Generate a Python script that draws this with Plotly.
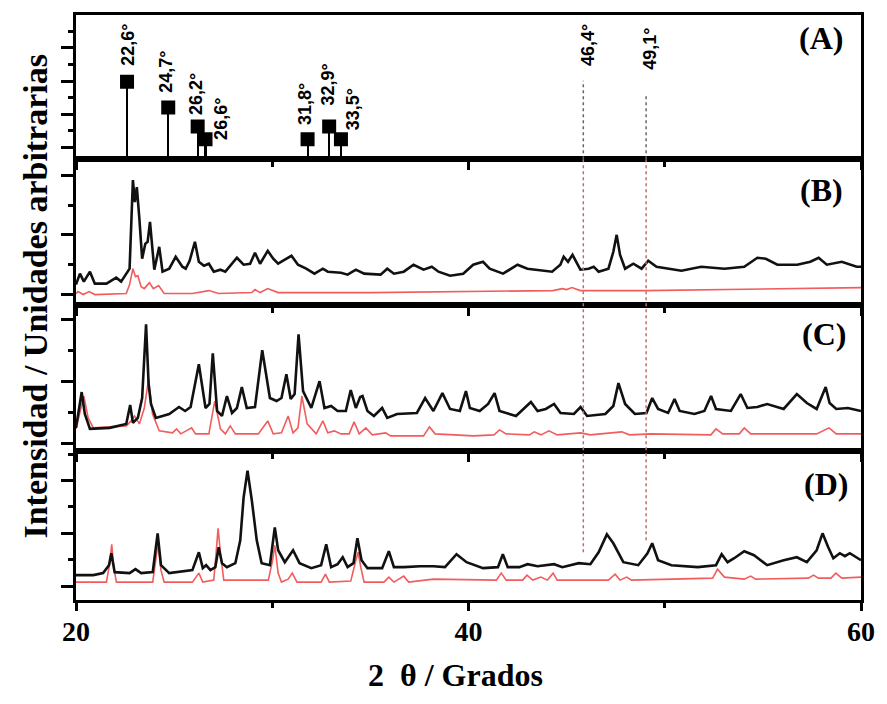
import plotly.graph_objects as go

# ---------------- data ----------------
# Panel A: reference reflections (2theta, relative intensity)
STICK_POS = [22.6, 24.7, 26.2, 26.6, 31.8, 32.9, 33.5]
STICK_INT = [78, 52, 33, 20, 20, 33, 20]
STICK_LABELS = ["22,6°", "24,7°", "26,2°", "26,6°", "31,8°", "32,9°", "33,5°"]

# dotted reference lines (position as drawn) and their labels
REF_POS = [45.85, 49.05]
REF_LABELS = ["46,4°", "49,1°"]

# Panel B: (2theta, intensity)
B_BLACK = [(20.0,20),(20.2,31),(20.4,23),(20.71,33),(20.96,21),(21.55,21),(22.05,27),(22.3,23),
           (22.73,36),(22.9,125),(23.0,103),(23.1,118),(23.23,86),(23.37,46),(23.53,61),(23.65,63),
           (23.77,83),(23.99,35),(24.24,58),(24.41,33),(24.75,36),(25.08,48),(25.42,38),(25.59,36),
           (25.79,44),(26.06,63),(26.26,43),(26.52,39),(26.77,41),(27.02,33),(27.36,35),(27.61,33),
           (28.2,47),(28.54,40),(28.87,41),(29.12,52),(29.38,41),(29.77,54),(30.05,46),(30.3,41),
           (30.64,45),(30.98,49),(31.31,40),(31.73,36),(32.15,31),(32.58,36),(32.83,33),(33.5,32),
           (33.84,30),(34.26,35),(34.68,31),(35.52,30),(35.86,36),(36.2,31),(36.7,33),(37.2,40),
           (37.71,35),(38.13,38),(38.47,33),(39.06,29),(39.73,31),(40.24,40),(40.74,43),(41.08,36),
           (41.76,31),(42.5,40),(43.0,36),(44.26,33),(44.68,40),(44.85,48),(45.07,43),(45.3,50),
           (45.7,35),(46.12,36),(46.38,38),(46.63,33),(47.13,36),(47.38,53),(47.55,70),(47.72,50),
           (47.98,36),(48.4,41),(48.82,36),(49.16,44),(49.58,38),(50.34,36),(50.85,34),(51.86,38),
           (53.04,36),(54.05,38),(54.72,47),(55.15,46),(55.74,40),(56.75,40),(57.42,43),(57.84,47),
           (58.26,40),(59.02,43),(59.78,38),(60.0,38)]
B_RED = [(20.0,11),(20.1,13),(20.37,10),(20.67,13),(20.96,10),(22.56,11),(22.73,20),(22.9,36),
         (23.03,28),(23.15,29),(23.32,18),(23.48,16),(23.74,22),(23.94,16),(24.21,19),(24.49,11),
         (25.93,11),(26.77,14),(27.27,11),(28.96,12),(29.12,15),(29.38,12),(29.77,16),(30.3,12),
         (35.0,12),(40.24,13),(44.3,14),(44.77,16),(45.0,15),(45.27,17),(45.7,14),(49.0,14),
         (52.0,15),(55.0,16),(60.0,17)]

# Panel C
C_BLACK = [(20.0,23),(20.12,37),(20.29,59),(20.45,37),(20.71,22),(21.72,23),(22.56,27),(22.76,46),
           (22.9,28),(23.15,33),(23.37,53),(23.57,127),(23.7,67),(23.82,47),(24.07,33),(24.75,37),
           (25.25,44),(25.56,40),(25.84,44),(26.26,87),(26.6,43),(26.8,47),(26.97,98),(27.19,40),
           (27.44,35),(27.69,55),(27.95,38),(28.2,43),(28.45,64),(28.7,43),(29.12,44),(29.49,101),
           (29.88,53),(30.22,50),(30.47,53),(30.72,77),(30.94,52),(31.14,57),(31.34,117),(31.57,60),
           (31.73,53),(31.99,43),(32.41,70),(32.66,43),(33.0,45),(33.33,40),(33.75,40),(34.0,61),
           (34.26,43),(34.48,54),(34.6,55),(34.85,40),(35.18,35),(35.6,43),(35.86,33),(36.36,37),
           (37.37,38),(37.79,53),(38.21,40),(38.67,58),(39.06,42),(39.56,40),(39.87,60),(40.07,43),
           (40.57,40),(41.0,47),(41.33,58),(41.58,40),(42.42,35),(42.84,43),(43.18,49),(43.52,40),
           (43.94,42),(44.36,47),(44.69,38),(45.37,37),(45.71,44),(46.04,35),(46.97,37),(47.38,45),
           (47.64,68),(47.98,47),(48.48,37),(49.07,38),(49.36,53),(49.66,42),(50.17,38),(50.5,52),
           (50.76,40),(51.51,37),(52.02,40),(52.36,55),(52.61,42),(53.37,40),(53.87,57),(54.21,43),
           (54.72,44),(55.22,47),(56.06,42),(56.73,57),(57.24,48),(57.74,42),(58.2,64),(58.4,48),
           (58.74,42),(59.33,43),(60.0,40)]
C_RED = [(20.0,22),(20.2,40),(20.4,55),(20.62,33),(20.88,23),(22.56,25),(22.81,30),(22.98,35),
         (23.23,27),(23.48,43),(23.7,72),(23.9,37),(24.24,20),(24.92,18),(25.12,22),(25.34,17),
         (25.89,23),(26.09,17),(26.77,17),(27.07,50),(27.36,22),(27.61,17),(27.86,25),(28.12,17),
         (29.29,17),(29.77,30),(30.05,17),(30.47,18),(30.81,35),(31.06,18),(31.31,23),(31.51,55),
         (31.78,27),(32.24,17),(32.58,30),(32.83,18),(33.16,20),(33.5,17),(33.92,17),(34.17,29),
         (34.43,17),(34.77,23),(35.1,16),(35.78,18),(36.03,15),(37.71,15),(38.01,24),(38.3,17),
         (40.24,15),(41.3,16),(41.58,21),(41.92,17),(43.1,16),(43.35,19),(43.69,16),(44.1,20),
         (44.52,16),(45.71,18),(46.2,16),(47.81,19),(48.2,16),(49.32,17),(52.35,16),(52.61,22),
         (52.95,17),(53.8,17),(54.05,23),(54.38,17),(57.74,17),(58.37,23),(58.74,17),(60.0,17)]

# Panel D
D_BLACK = [(20.0,25),(20.88,25),(21.38,27),(21.68,35),(21.8,47),(21.97,28),(22.73,27),(23.03,31),
           (23.32,27),(23.91,28),(24.16,67),(24.33,35),(24.75,27),(25.25,28),(25.93,30),(26.26,48),
           (26.46,32),(26.63,35),(26.85,30),(27.1,33),(27.27,53),(27.44,37),(27.69,33),(28.12,37),
           (28.37,60),(28.54,103),(28.74,130),(28.96,100),(29.21,60),(29.46,37),(29.88,35),(30.13,73),
           (30.3,50),(30.64,38),(31.06,50),(31.39,37),(31.99,32),(32.49,35),(32.75,56),(33.0,33),
           (33.33,36),(33.59,43),(33.84,33),(34.14,37),(34.34,62),(34.55,40),(34.85,32),(35.6,32),
           (35.94,49),(36.2,33),(36.7,33),(37.54,34),(38.21,34),(38.8,33),(39.39,46),(39.9,38),
           (40.74,32),(41.5,33),(41.75,46),(42.0,33),(42.59,33),(43.01,36),(43.52,34),(44.36,36),
           (44.78,33),(45.62,37),(46.21,36),(46.63,48),(47.05,66),(47.38,57),(47.89,38),(48.65,35),
           (49.12,47),(49.36,57),(49.66,40),(50.34,35),(51.68,33),(52.61,35),(52.9,46),(53.2,38),
           (53.54,42),(54.05,49),(54.55,45),(55.22,35),(56.06,40),(56.73,43),(57.24,38),(57.74,50),
           (58.04,67),(58.33,53),(58.59,42),(58.92,47),(59.18,44),(59.43,47),(60.0,40)]
D_RED = [(20.0,18),(21.55,18),(21.72,37),(21.82,56),(21.92,33),(22.06,18),(23.91,18),(24.07,43),
         (24.18,57),(24.33,30),(24.49,18),(25.93,18),(26.26,27),(26.46,18),(27.02,20),(27.15,50),
         (27.24,72),(27.36,47),(27.53,20),(29.8,20),(30.02,40),(30.13,55),(30.3,27),(30.47,18),
         (30.81,21),(31.02,27),(31.26,18),(32.49,18),(32.71,26),(32.91,18),(34.0,19),(34.26,40),
         (34.38,48),(34.51,33),(34.68,18),(35.69,18),(35.94,23),(36.2,18),(36.7,24),(36.95,18),
         (38.21,21),(41.42,20),(41.67,27),(41.92,20),(42.76,20),(42.98,25),(43.27,20),(43.69,23),
         (44.02,20),(44.31,27),(44.52,20),(47.13,20),(47.47,26),(47.72,20),(48.06,23),(48.31,20),
         (52.44,22),(52.69,31),(53.04,23),(54.05,21),(54.38,24),(54.63,21),(57.32,22),(57.58,25),
         (57.83,22),(58.47,22),(58.72,27),(59.02,22),(60.0,23)]

X_TICKS = [20, 40, 60]
PANEL_NAMES = ["(A)", "(B)", "(C)", "(D)"]

# ---------------- styling / layout ----------------
BLACK_C = "#111111"
RED_C = "#f25c5c"
SERIF = "Liberation Serif, Times New Roman, serif"
SANS = "Liberation Sans, Arial, sans-serif"

fig = go.Figure()

def unzip(pairs):
    return [p[0] for p in pairs], [p[1] for p in pairs]

# axis ids: D -> x/y, C -> x2/y2, B -> x3/y3, A -> x4/y4
for pairs, color, width, ax in [
    (B_RED, RED_C, 1.6, 3), (B_BLACK, BLACK_C, 2.6, 3),
    (C_RED, RED_C, 1.6, 2), (C_BLACK, BLACK_C, 2.6, 2),
    (D_RED, RED_C, 1.6, 1), (D_BLACK, BLACK_C, 2.6, 1),
]:
    xs, ys = unzip(pairs)
    sfx = "" if ax == 1 else str(ax)
    fig.add_trace(go.Scatter(x=xs, y=ys, mode="lines", line=dict(color=color, width=width),
                             xaxis="x" + sfx, yaxis="y" + sfx, showlegend=False,
                             hoverinfo="skip"))

# panel A sticks + square heads
fig.add_trace(go.Bar(x=STICK_POS, y=STICK_INT, width=0.11, marker=dict(color="black", line=dict(width=0)),
                     xaxis="x4", yaxis="y4", showlegend=False))
fig.add_trace(go.Scatter(x=STICK_POS, y=STICK_INT, mode="markers",
                         marker=dict(symbol="square", size=14, color="black"),
                         xaxis="x4", yaxis="y4", showlegend=False))

# domains (fractions of plot area, bottom to top)
DOM = {1: [0.0, 0.2551], 2: [0.2551, 0.5051], 3: [0.5051, 0.7534], 4: [0.7534, 1.0]}
YRANGE = {1: [0, 150], 2: [0, 147], 3: [0, 146], 4: [0, 145]}
YTICK = {1: (14, 53), 2: (7, 62.5), 3: (10, 60), 4: (12, 33.33)}

layout = dict(
    width=887, height=704,
    margin=dict(l=76, r=21, t=12, b=104),
    paper_bgcolor="white", plot_bgcolor="white",
    bargap=0, showlegend=False,
)
for i in range(1, 5):
    sfx = "" if i == 1 else str(i)
    layout["xaxis" + sfx] = dict(
        range=[20, 60], anchor="y" + sfx, domain=[0, 1],
        showline=True, linewidth=3, linecolor="black", mirror=True,
        ticks="outside", ticklen=8, tickwidth=3, tickcolor="black",
        tickmode="array", tickvals=X_TICKS, ticktext=[str(v) for v in X_TICKS],
        minor=dict(ticks="outside", ticklen=5, tickwidth=3, dtick=10, tick0=20, tickcolor="black"),
        showticklabels=(i == 1), showgrid=False, zeroline=False,
        ticklabelstandoff=-4,
        tickfont=dict(family=SERIF, size=28, color="black", weight="bold"),
        **({} if i == 1 else {"matches": "x"}),
    )
    t0, dt = YTICK[i]
    layout["yaxis" + sfx] = dict(
        domain=DOM[i], range=YRANGE[i], anchor="x" + sfx,
        showline=True, linewidth=3, linecolor="black", mirror=True,
        ticks="outside", ticklen=12, tickwidth=3, tickcolor="black",
        tick0=t0, dtick=dt,
        minor=dict(ticks="outside", ticklen=5, tickwidth=3, dtick=dt / 2, tick0=t0, tickcolor="black"),
        showticklabels=False, showgrid=False, zeroline=False,
    )
fig.update_layout(**layout)

# dotted reference lines
REF_TOP_A = [79, 65]
REF_BOT_D = [48, 60]
for xp, ta, bd in zip(REF_POS, REF_TOP_A, REF_BOT_D):
    fig.add_shape(type="line", xref="x4", yref="y4", x0=xp, x1=xp, y0=0, y1=ta,
                  line=dict(color="#666666", width=1.5, dash="dot"))
    fig.add_shape(type="line", xref="x", yref="paper", x0=xp, x1=xp,
                  y0=bd / 150 * DOM[1][1], y1=DOM[3][1],
                  line=dict(color="#c46a6a", width=1.5, dash="dot"))

annotations = []
# stick labels
LBL_DX = [1, -3, -1, 16, -2, -1, 12]
LBL_DY = [14, 13, 9, -3, 12, 19, 7]
for xp, yv, txt, dx, dy in zip(STICK_POS, STICK_INT, STICK_LABELS, LBL_DX, LBL_DY):
    annotations.append(dict(x=xp, y=yv, xref="x4", yref="y4", text=txt, textangle=-90,
                            showarrow=False, xanchor="center", yanchor="bottom",
                            xshift=dx, yshift=dy,
                            font=dict(family=SANS, size=18, color="black", weight="bold")))
for xp, txt, yb in zip(REF_POS, REF_LABELS, [92, 88]):
    annotations.append(dict(x=xp, y=yb, xref="x4", yref="y4", text=txt, textangle=-90,
                            showarrow=False, xanchor="center", yanchor="bottom", xshift=4,
                            font=dict(family=SANS, size=18, color="black", weight="bold")))
# panel letters
PANEL_Y = [0.84, 0.79, 0.80, 0.78]
PANEL_DX = [-16, -16, -13, -11]
for name, yy, dx, ax in zip(PANEL_NAMES, PANEL_Y, PANEL_DX, [4, 3, 2, 1]):
    sfx = "" if ax == 1 else str(ax)
    annotations.append(dict(x=1, y=yy, xref="x" + sfx + " domain", yref="y" + sfx + " domain",
                            text=name, showarrow=False, xanchor="right", yanchor="middle",
                            xshift=dx, font=dict(family=SERIF, size=32, color="black", weight="bold")))
# axis titles
annotations.append(dict(x=0, y=0.5187, xref="paper", yref="paper", xshift=-40,
                        text="Intensidad / Unidades arbitrarias", textangle=-90, showarrow=False,
                        xanchor="center", yanchor="middle",
                        font=dict(family=SERIF, size=34, color="black", weight="bold")))
annotations.append(dict(x=0.4835, y=-0.1276, xref="paper", yref="paper",
                        text="2&nbsp; θ / Grados", showarrow=False,
                        xanchor="center", yanchor="middle",
                        font=dict(family=SERIF, size=32, color="black", weight="bold")))
fig.update_layout(annotations=annotations)

fig.write_html("out.html")
